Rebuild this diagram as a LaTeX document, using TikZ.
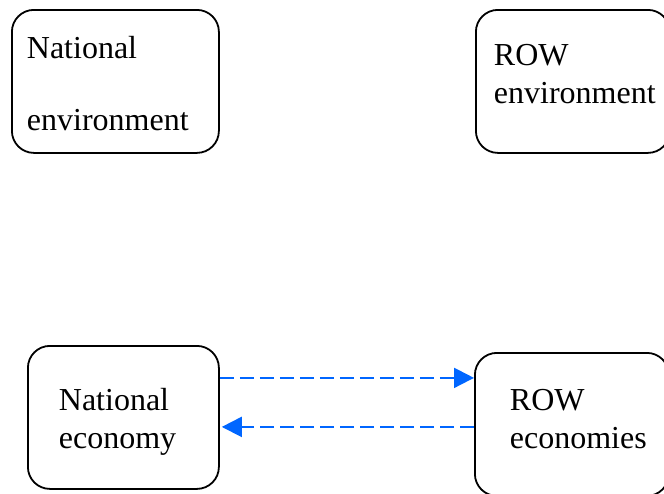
\documentclass[tikz,border=0pt]{standalone}
\usepackage{fontspec}
\setmainfont{Liberation Serif}
\usetikzlibrary{
  arrows.meta,
}
\definecolor{flowblue}{RGB}{0,102,255}

\begin{document}
\begin{tikzpicture}[x=0.5pt, y=-0.5pt,
  sector/.style={draw, line width=0.9pt, rounded corners=11pt, anchor=north west,
    align=left, inner ysep=0pt, minimum height=71.5pt, text height=11pt,
    font={\fontsize{16}{19}\selectfont\hyphenpenalty=10000}},
  flow/.style={flowblue, line width=1pt, dash pattern=on 7pt off 3pt,
    -{Triangle[length=10pt,width=10pt]}}]
\path[use as bounding box, clip] (0,0) rectangle (664,493);
\node[sector, minimum width=103.5pt, inner xsep=7.5pt, text width=88.5pt,
  text depth=33.5pt] (natenv) at (11,9) {National\\[17pt]environment};
\node[sector, minimum width=97pt, inner xsep=9pt, text width=79pt,
  text depth=26.5pt] (rowenv) at (475,9) {ROW\\environment};
\node[sector, minimum width=95.5pt, inner xsep=15.5pt, text width=64.5pt,
  text depth=17.5pt] (natecon) at (27,345) {National\\economy};
\node[sector, minimum width=97pt, inner xsep=17.5pt, text width=62pt,
  text depth=24.5pt] (rowecon) at (474,352) {ROW\\economies};
\draw[flow] ([yshift=19.75pt]natecon.east) -- ([yshift=19.75pt]natecon.east -| rowecon.west);
\draw[flow, shorten >=1pt] ([yshift=-4.75pt]natecon.east -| rowecon.west) -- ([yshift=-4.75pt]natecon.east);
\end{tikzpicture}
\end{document}
